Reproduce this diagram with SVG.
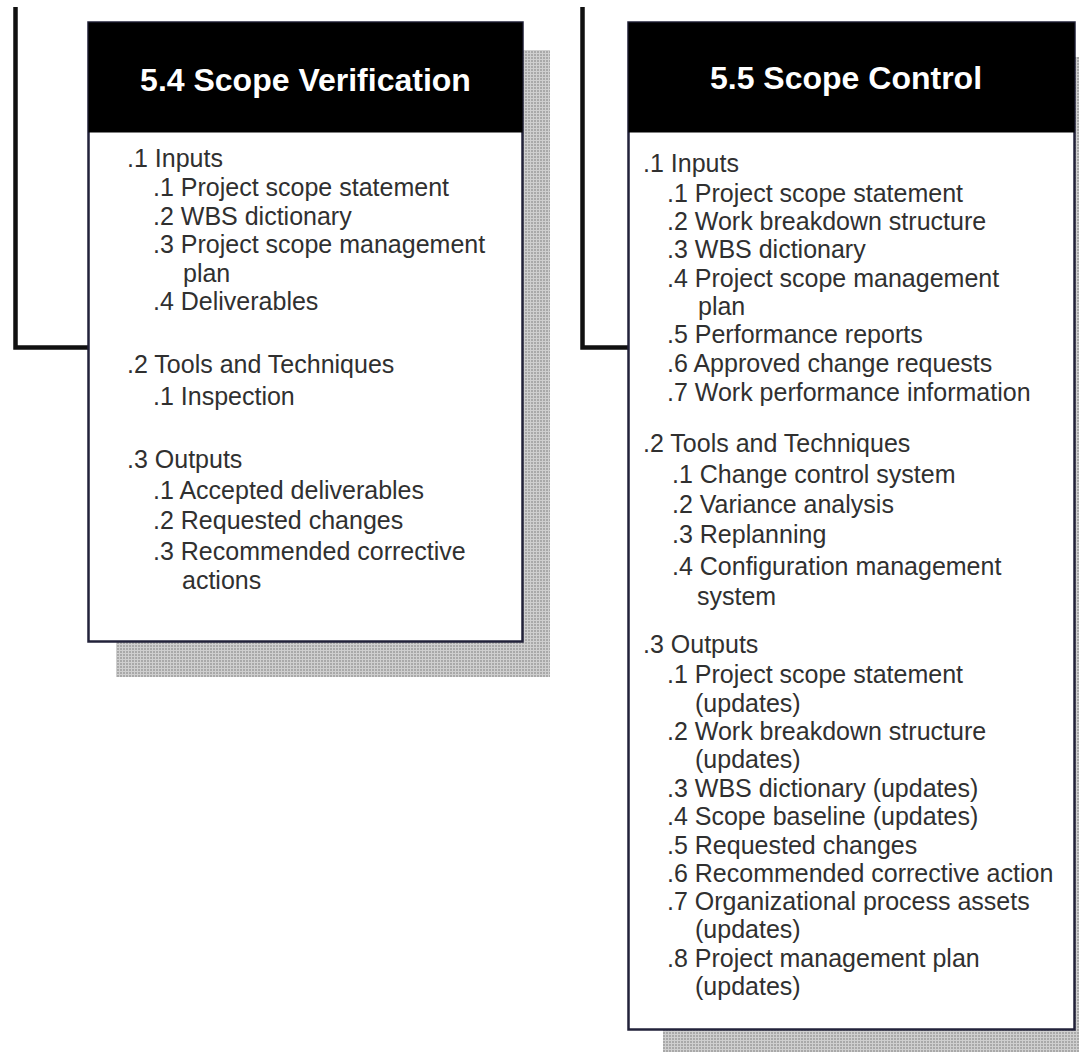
<svg xmlns="http://www.w3.org/2000/svg" width="1079" height="1052" viewBox="0 0 1079 1052">
<defs>
<pattern id="dots" width="3" height="3" patternUnits="userSpaceOnUse">
<rect width="3" height="3" fill="#cfcfcf"/>
<rect width="2" height="2" fill="#a9a9a9"/>
</pattern>
</defs>
<style>
.shadow{fill:url(#dots);}
.box{fill:#ffffff;stroke:#22223a;stroke-width:2.5;}
.head{fill:#000000;}
.title{font-family:"Liberation Sans",Arial,sans-serif;font-weight:bold;font-size:32px;fill:#ffffff;text-anchor:middle;}
.t{font-family:"Liberation Sans",Arial,sans-serif;font-size:25px;fill:#303030;}
.conn{fill:none;stroke:#111111;stroke-width:4.5;stroke-linejoin:miter;}
</style>
<rect width="1079" height="1052" fill="#ffffff"/>
<g id="connectors">
<path class="conn" d="M15.5,7 V347.5 H88"/>
<path class="conn" d="M582.5,7 V347.5 H628"/>
</g>
<g id="node-5-4">
<rect class="shadow" x="116" y="50" width="434" height="627"/>
<rect class="box" x="88.5" y="22.5" width="434" height="619"/>
<rect class="head" x="88.5" y="22.5" width="434" height="110"/>
<text class="title" x="305.5" y="91">5.4 Scope Verification</text>
<text class="t" x="127" y="167">.1 Inputs</text>
<text class="t" x="153" y="196">.1 Project scope statement</text>
<text class="t" x="153" y="225">.2 WBS dictionary</text>
<text class="t" x="153" y="253">.3 Project scope management</text>
<text class="t" x="183" y="282">plan</text>
<text class="t" x="153" y="310">.4 Deliverables</text>
<text class="t" x="127" y="373">.2 Tools and Techniques</text>
<text class="t" x="153" y="405">.1 Inspection</text>
<text class="t" x="127" y="468">.3 Outputs</text>
<text class="t" x="153" y="499">.1 Accepted deliverables</text>
<text class="t" x="153" y="529">.2 Requested changes</text>
<text class="t" x="153" y="560">.3 Recommended corrective</text>
<text class="t" x="182" y="589">actions</text>
</g>
<g id="node-5-5">
<rect class="shadow" x="663" y="57" width="420" height="1000"/>
<rect class="box" x="628.5" y="22.5" width="446" height="1007"/>
<rect class="head" x="628.5" y="22.5" width="446" height="110"/>
<text class="title" x="846" y="89">5.5 Scope Control</text>
<text class="t" x="643" y="172">.1 Inputs</text>
<text class="t" x="667" y="202">.1 Project scope statement</text>
<text class="t" x="667" y="230">.2 Work breakdown structure</text>
<text class="t" x="667" y="258">.3 WBS dictionary</text>
<text class="t" x="667" y="287">.4 Project scope management</text>
<text class="t" x="698" y="315">plan</text>
<text class="t" x="667" y="343">.5 Performance reports</text>
<text class="t" x="667" y="372">.6 Approved change requests</text>
<text class="t" x="667" y="401">.7 Work performance information</text>
<text class="t" x="643" y="452">.2 Tools and Techniques</text>
<text class="t" x="672" y="483">.1 Change control system</text>
<text class="t" x="672" y="513">.2 Variance analysis</text>
<text class="t" x="672" y="543">.3 Replanning</text>
<text class="t" x="672" y="575">.4 Configuration management</text>
<text class="t" x="697" y="605">system</text>
<text class="t" x="643" y="653">.3 Outputs</text>
<text class="t" x="667" y="683">.1 Project scope statement</text>
<text class="t" x="695" y="712">(updates)</text>
<text class="t" x="667" y="740">.2 Work breakdown structure</text>
<text class="t" x="695" y="768">(updates)</text>
<text class="t" x="667" y="797">.3 WBS dictionary (updates)</text>
<text class="t" x="667" y="825">.4 Scope baseline (updates)</text>
<text class="t" x="667" y="854">.5 Requested changes</text>
<text class="t" x="667" y="882">.6 Recommended corrective action</text>
<text class="t" x="667" y="910">.7 Organizational process assets</text>
<text class="t" x="695" y="938">(updates)</text>
<text class="t" x="667" y="967">.8 Project management plan</text>
<text class="t" x="695" y="995">(updates)</text>
</g>
</svg>
